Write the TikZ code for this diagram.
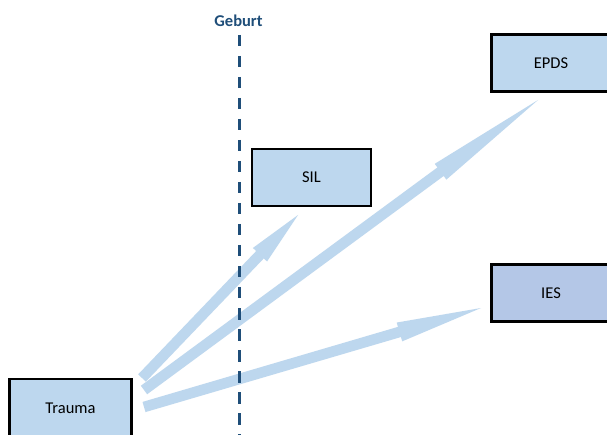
\documentclass[tikz,border=0pt]{standalone}
\usepackage{fontspec}
\setmainfont{Carlito}
\usetikzlibrary{calc}

\definecolor{boxblue}{HTML}{BDD7EE}
\definecolor{boxperi}{HTML}{B4C7E7}
\definecolor{arrowblue}{HTML}{BDD7EE}
\definecolor{birthblue}{HTML}{1F4E79}

\tikzset{
  measure/.style={draw=black, line width=2.3pt, fill=boxblue, inner sep=0pt,
    minimum width=119pt, minimum height=57pt, font=\fontsize{16.5}{18}\selectfont},
  birthline/.style={draw=birthblue, line width=3pt, dash pattern=on 11.5pt off 9.5pt},
  arrowfill/.style={fill=arrowblue},
}

% block arrow: name, start, tip, head length
\def\shaftw{5.3pt}
\def\headw{9.8pt}
\newcommand\flowarrow[4]{%
  \coordinate (#1-b) at ($(#3)!#4!(#2)$);
  \fill[arrowfill] ($(#2)!\shaftw!90:(#3)$) -- ($(#1-b)!\shaftw!90:(#3)$)
    -- ($(#1-b)!\headw!90:(#3)$) -- (#3) -- ($(#1-b)!\headw!-90:(#3)$)
    -- ($(#1-b)!\shaftw!-90:(#3)$) -- ($(#2)!\shaftw!-90:(#3)$) -- cycle;
}

\begin{document}
\begin{tikzpicture}[x=1pt, y=-1pt]
  \clip (0,0) rectangle (607,435);
  \fill[white] (0,0) rectangle (607,435);

  % measurement boxes
  \node[measure, minimum width=122pt, minimum height=59pt] (trauma) at (70.5,408.5) {Trauma};
  \node[measure] (sil) at (311.5,177.5) {SIL};
  \node[measure] (epds) at (551,63) {EPDS};
  \node[measure, fill=boxperi] (ies) at (551,293) {IES};

  % arrow ends
  \coordinate (s1) at (142,378);
  \coordinate (t1) at (298,215);
  \coordinate (s2) at (144,390);
  \coordinate (t2) at (538,100);
  \coordinate (s3) at (144,407);
  \coordinate (t3) at (481,308);

  \flowarrow{a1}{s1}{t1}{55pt}
  \flowarrow{a2}{s2}{t2}{121pt}
  \flowarrow{a3}{s3}{t3}{85pt}

  % birth marker
  \node[text=birthblue, font=\bfseries\fontsize{16.5}{18}\selectfont] (geburt) at (238.5,21) {Geburt};
  \coordinate (lineend) at (239,440);
  \draw[birthline] (239,35) -- (lineend);
\end{tikzpicture}
\end{document}
